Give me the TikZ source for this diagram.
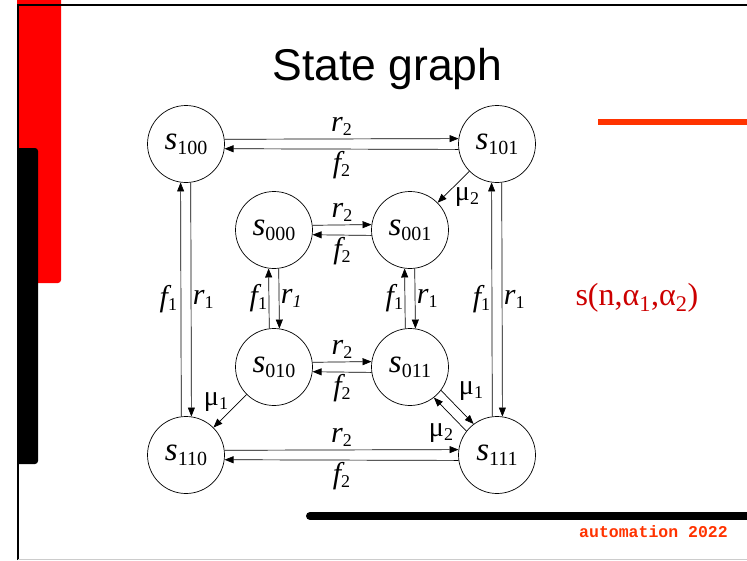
\documentclass[tikz,border=0pt]{standalone}
\usepackage{fontspec}
\setmainfont{Liberation Serif}
\newfontfamily\titlefont{Liberation Sans}
\newfontfamily\footfont{Liberation Mono}
\usepackage{tikz}
\usetikzlibrary{arrows.meta}
\usepackage{xcolor}
\definecolor{barred}{HTML}{FF0000}
\definecolor{accent}{HTML}{FF3300}
\definecolor{paramred}{HTML}{CC0000}
\newcommand{\sname}[1]{\textit{s}\raisebox{-5pt}{\fontsize{20}{22}\selectfont#1}}
\newcommand{\tlab}[2]{{#1}\raisebox{-4pt}{\fontsize{18}{19}\selectfont#2}}

\begin{document}
\begin{tikzpicture}[x=1pt,y=-1pt,
  state/.style={circle,draw,line width=0.7pt,minimum size=77pt,inner sep=0pt,font=\fontsize{33}{36}\selectfont},
  trans/.style={-{Triangle[length=9pt,width=7pt]},line width=0.7pt},
  lbl/.style={font=\fontsize{30}{33}\selectfont,inner sep=1.5pt}]
\useasboundingbox (0,0) rectangle (747,560);
% slide frame
\begin{scope}
\clip (17,0) rectangle (747,560);
\fill[barred,rounded corners=3pt] (5,-5) rectangle (61,283);
\fill[black,rounded corners=3pt] (5,148) rectangle (38,464);
\end{scope}
\draw[line width=2pt] (18,560) -- (18,5) -- (747,5);
\draw[black!20,line width=1pt] (18,559.5) -- (747,559.5);
\draw[accent,line width=6pt] (598,122) -- (747,122);
\draw[line width=8pt,line cap=round] (310,516) -- (760,516);
\node[font=\titlefont\fontsize{44.5}{50}\selectfont,anchor=base] (title) at (387.5,80) {State graph};
\node[font=\footfont\bfseries\fontsize{16.5}{18}\selectfont,text=accent] (foot) at (653.5,532) {automation 2022};
\node[font=\fontsize{32}{36}\selectfont,text=paramred,anchor=west] (param) at (572,298) {s(n,α\textsubscript{1},α\textsubscript{2})};

% states
\node[state] (s100) at (186,144) {\sname{100}};
\node[state] (s101) at (497,144) {\sname{101}};
\node[state] (s000) at (274,230) {\sname{000}};
\node[state] (s001) at (410,230) {\sname{001}};
\node[state] (s010) at (274,367) {\sname{010}};
\node[state] (s011) at (410,367) {\sname{011}};
\node[state] (s110) at (186,455) {\sname{110}};
\node[state] (s111) at (497,455) {\sname{111}};

% horizontal pairs
\draw[trans] (s100.7.5) -- node[lbl,above=2pt] (r2a) {\tlab{\itshape r}{2}} (s101.172.5);
\draw[trans] (s101.-172.5) -- node[lbl,below] (f2a) {\tlab{\itshape f}{2}} (s100.-7.5);
\draw[trans] (s000.7.5) -- node[lbl,above=2pt] (r2b) {\tlab{\itshape r}{2}} (s001.172.5);
\draw[trans] (s001.-172.5) -- node[lbl,below] (f2b) {\tlab{\itshape f}{2}} (s000.-7.5);
\draw[trans] (s010.7.5) -- node[lbl,above=2pt] (r2c) {\tlab{\itshape r}{2}} (s011.172.5);
\draw[trans] (s011.-172.5) -- node[lbl,below] (f2c) {\tlab{\itshape f}{2}} (s010.-7.5);
\draw[trans] (s110.7.5) -- node[lbl,above=2pt] (r2d) {\tlab{\itshape r}{2}} (s111.172.5);
\draw[trans] (s111.-172.5) -- node[lbl,below] (f2d) {\tlab{\itshape f}{2}} (s110.-7.5);

% vertical pairs
\draw[trans] (s110.97.5) -- node[lbl,left=2pt] (f1a) {\tlab{\itshape f}{1}} (s100.262.5);
\draw[trans] (s100.277.5) -- node[lbl,right] (r1a) {\tlab{\itshape r}{1}} (s110.82.5);
\draw[trans] (s010.97.5) -- node[lbl,left] (f1b) {\tlab{\itshape f}{1}} (s000.262.5);
\draw[trans] (s000.277.5) -- node[lbl,right] (r1b) {\tlab{\itshape r}{\itshape 1}} (s010.82.5);
\draw[trans] (s011.97.5) -- node[lbl,left] (f1c) {\tlab{\itshape f}{1}} (s001.262.5);
\draw[trans] (s001.277.5) -- node[lbl,right] (r1c) {\tlab{\itshape r}{1}} (s011.82.5);
\draw[trans] (s111.97.5) -- node[lbl,left] (f1d) {\tlab{\itshape f}{1}} (s101.262.5);
\draw[trans] (s101.277.5) -- node[lbl,right] (r1d) {\tlab{\itshape r}{1}} (s111.82.5);

% diagonals
\draw[trans] (s101) -- (s001);
\draw[trans] (s010) -- (s110);
\draw[trans] (s011.-37.5) -- (s111.127.5);
\draw[trans] (s111.142.5) -- (s011.-52.5);
\node[lbl,font=\fontsize{28}{30}\selectfont] (mu2a) at (467,197) {\tlab{μ}{2}};
\node[lbl,font=\fontsize{28}{30}\selectfont] (mu1a) at (216,402) {\tlab{μ}{1}};
\node[lbl,font=\fontsize{28}{30}\selectfont] (mu1b) at (471,391) {\tlab{μ}{1}};
\node[lbl,font=\fontsize{28}{30}\selectfont] (mu2b) at (441,433) {\tlab{μ}{2}};
\end{tikzpicture}
\end{document}
